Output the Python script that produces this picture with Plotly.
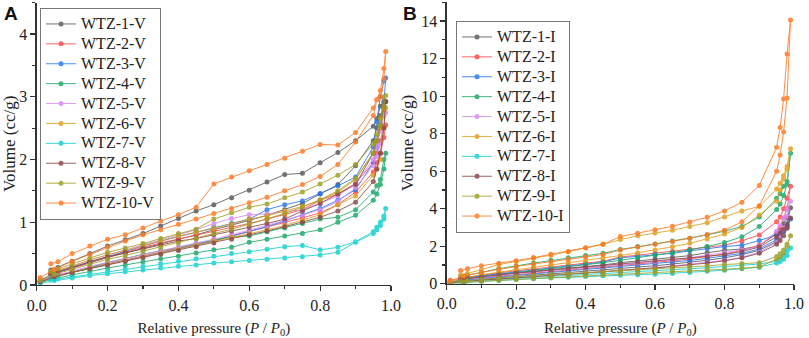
import plotly.graph_objects as go

# ---------------- data ----------------
NAMES_A = ["WTZ-1-V", "WTZ-2-V", "WTZ-3-V", "WTZ-4-V", "WTZ-5-V",
           "WTZ-6-V", "WTZ-7-V", "WTZ-8-V", "WTZ-9-V", "WTZ-10-V"]
NAMES_B = ["WTZ-1-I", "WTZ-2-I", "WTZ-3-I", "WTZ-4-I", "WTZ-5-I",
           "WTZ-6-I", "WTZ-7-I", "WTZ-8-I", "WTZ-9-I", "WTZ-10-I"]
COLORS = ["#5c5c5c", "#ff4a4a", "#2a78f0", "#1faa6a", "#d98cf2",
          "#e0a020", "#18d0d0", "#8c4a4a", "#a0a028", "#ff7a24"]

# relative pressure of adsorption / desorption points
P_ADS_A = [0.01, 0.05, 0.1, 0.15, 0.2, 0.25, 0.3, 0.35, 0.4, 0.45, 0.5, 0.55,
           0.6, 0.65, 0.7, 0.75, 0.8, 0.85, 0.9, 0.95, 0.96, 0.97, 0.98, 0.985]
P_ADS_B = [0.01, 0.05, 0.1, 0.15, 0.2, 0.25, 0.3, 0.35, 0.4, 0.45, 0.5, 0.55,
           0.6, 0.65, 0.7, 0.75, 0.8, 0.85, 0.9, 0.95, 0.96, 0.97, 0.98, 0.99]
P_DES = [0.98, 0.97, 0.96, 0.95, 0.9, 0.85, 0.8, 0.75, 0.7, 0.65, 0.6, 0.55,
         0.5, 0.45, 0.4, 0.35, 0.3, 0.25, 0.2, 0.15, 0.1, 0.06, 0.04]

# ---- panel A (cc/g) ----
A1_ADS = [0.08, 0.18, 0.27, 0.36, 0.44, 0.51, 0.58, 0.65, 0.72, 0.80, 0.88, 0.95, 1.03, 1.11, 1.20, 1.30, 1.45, 1.60, 1.90, 2.30, 2.50, 2.70, 2.85, 2.93]
A1_DES = [2.93, 2.85, 2.65, 2.53, 2.30, 2.11, 1.95, 1.78, 1.76, 1.64, 1.51, 1.39, 1.28, 1.18, 1.06, 0.94, 0.82, 0.72, 0.62, 0.50, 0.38, 0.28, 0.24]
A2_ADS = [0.06, 0.14, 0.21, 0.28, 0.34, 0.40, 0.46, 0.52, 0.58, 0.64, 0.71, 0.78, 0.85, 0.92, 1.00, 1.07, 1.15, 1.28, 1.48, 1.80, 1.95, 2.10, 2.35, 2.55]
A2_DES = [2.52, 2.30, 2.10, 1.95, 1.62, 1.45, 1.35, 1.20, 1.12, 1.05, 0.98, 0.92, 0.86, 0.80, 0.74, 0.67, 0.60, 0.52, 0.45, 0.36, 0.27, 0.20, 0.17]
A3_ADS = [0.05, 0.13, 0.20, 0.27, 0.33, 0.39, 0.45, 0.51, 0.57, 0.63, 0.70, 0.78, 0.85, 0.93, 1.02, 1.12, 1.22, 1.35, 1.52, 1.95, 2.20, 2.50, 2.90, 3.30]
A3_DES = [3.25, 3.00, 2.60, 2.20, 1.72, 1.58, 1.46, 1.34, 1.28, 1.20, 1.05, 0.98, 0.92, 0.85, 0.78, 0.70, 0.62, 0.54, 0.46, 0.37, 0.28, 0.20, 0.17]
A4_ADS = [0.04, 0.10, 0.16, 0.22, 0.27, 0.32, 0.37, 0.42, 0.46, 0.51, 0.56, 0.60, 0.68, 0.73, 0.78, 0.82, 0.88, 1.00, 1.11, 1.35, 1.45, 1.60, 1.85, 2.10]
A4_DES = [2.00, 1.68, 1.58, 1.48, 1.20, 1.08, 1.05, 0.98, 0.91, 0.85, 0.78, 0.77, 0.72, 0.66, 0.60, 0.55, 0.49, 0.42, 0.36, 0.28, 0.20, 0.15, 0.12]
A5_ADS = [0.06, 0.15, 0.22, 0.30, 0.36, 0.42, 0.48, 0.54, 0.60, 0.66, 0.73, 0.80, 0.87, 0.95, 1.03, 1.11, 1.20, 1.33, 1.55, 1.90, 2.05, 2.25, 2.50, 2.75]
A5_DES = [2.70, 2.45, 2.20, 2.00, 1.62, 1.42, 1.30, 1.20, 1.17, 1.13, 1.12, 1.06, 0.98, 0.88, 0.80, 0.72, 0.64, 0.57, 0.49, 0.40, 0.30, 0.23, 0.20]
A6_ADS = [0.05, 0.13, 0.20, 0.27, 0.33, 0.39, 0.45, 0.51, 0.57, 0.63, 0.70, 0.76, 0.82, 0.88, 0.95, 1.03, 1.12, 1.28, 1.42, 1.75, 1.85, 2.00, 2.50, 2.82]
A6_DES = [2.78, 2.50, 2.30, 2.10, 1.68, 1.48, 1.35, 1.25, 1.18, 1.10, 1.05, 0.97, 0.90, 0.84, 0.78, 0.70, 0.62, 0.55, 0.48, 0.40, 0.30, 0.23, 0.20]
A7_ADS = [0.03, 0.07, 0.11, 0.15, 0.18, 0.21, 0.24, 0.27, 0.30, 0.32, 0.35, 0.37, 0.39, 0.41, 0.43, 0.45, 0.48, 0.52, 0.68, 0.82, 0.88, 0.95, 1.05, 1.22]
A7_DES = [1.10, 1.00, 0.92, 0.85, 0.69, 0.60, 0.56, 0.63, 0.61, 0.57, 0.53, 0.50, 0.46, 0.42, 0.38, 0.34, 0.30, 0.26, 0.22, 0.18, 0.14, 0.10, 0.08]
A8_ADS = [0.05, 0.13, 0.20, 0.26, 0.32, 0.38, 0.44, 0.49, 0.55, 0.61, 0.67, 0.73, 0.80, 0.86, 0.93, 1.00, 1.08, 1.18, 1.32, 1.65, 1.85, 2.10, 2.50, 2.92]
A8_DES = [2.85, 2.55, 2.30, 2.10, 1.60, 1.45, 1.30, 1.18, 1.05, 0.98, 0.92, 0.86, 0.80, 0.74, 0.70, 0.64, 0.58, 0.52, 0.45, 0.37, 0.28, 0.21, 0.18]
A9_ADS = [0.07, 0.17, 0.25, 0.33, 0.41, 0.47, 0.54, 0.60, 0.67, 0.74, 0.82, 0.89, 0.97, 1.05, 1.14, 1.24, 1.36, 1.50, 1.70, 2.10, 2.30, 2.55, 2.85, 3.02]
A9_DES = [3.00, 2.65, 2.40, 2.25, 1.92, 1.75, 1.61, 1.48, 1.39, 1.29, 1.24, 1.15, 1.05, 0.89, 0.82, 0.74, 0.66, 0.59, 0.52, 0.43, 0.33, 0.26, 0.22]
A10_ADS = [0.12, 0.25, 0.38, 0.49, 0.60, 0.70, 0.80, 0.88, 0.97, 1.05, 1.14, 1.22, 1.31, 1.40, 1.50, 1.60, 1.73, 1.92, 2.28, 2.70, 2.95, 3.10, 3.45, 3.72]
A10_DES = [3.28, 3.00, 2.95, 2.82, 2.43, 2.23, 2.24, 2.13, 2.02, 1.92, 1.82, 1.72, 1.61, 1.24, 1.12, 1.02, 0.91, 0.80, 0.73, 0.62, 0.50, 0.37, 0.34]

# ---- panel B (cc/g) ----
B1_ADS = [0.04, 0.15, 0.23, 0.30, 0.37, 0.44, 0.51, 0.58, 0.65, 0.72, 0.80, 0.88, 0.96, 1.05, 1.14, 1.25, 1.38, 1.55, 1.78, 2.25, 2.50, 2.80, 3.20, 4.05]
B1_DES = [3.50, 3.20, 2.95, 2.70, 2.00, 1.85, 1.78, 1.65, 1.50, 1.40, 1.32, 1.22, 1.12, 1.00, 0.92, 0.85, 0.78, 0.70, 0.60, 0.50, 0.38, 0.28, 0.24]
B2_ADS = [0.18, 0.25, 0.32, 0.40, 0.48, 0.56, 0.64, 0.72, 0.80, 0.88, 0.96, 1.04, 1.12, 1.22, 1.32, 1.44, 1.58, 1.78, 2.05, 2.65, 3.00, 3.50, 4.00, 5.20]
B2_DES = [4.55, 4.00, 3.55, 3.30, 2.60, 2.28, 2.05, 1.95, 1.85, 1.72, 1.62, 1.52, 1.42, 1.20, 1.10, 1.00, 0.90, 0.80, 0.70, 0.58, 0.45, 0.33, 0.28]
B3_ADS = [0.05, 0.18, 0.28, 0.36, 0.44, 0.52, 0.60, 0.67, 0.74, 0.82, 0.90, 0.98, 1.06, 1.14, 1.24, 1.35, 1.48, 1.62, 1.85, 2.35, 2.55, 2.80, 3.10, 3.45]
B3_DES = [3.00, 2.85, 2.70, 2.60, 2.30, 2.05, 1.98, 1.88, 1.75, 1.62, 1.55, 1.45, 1.38, 1.15, 1.05, 0.95, 0.85, 0.75, 0.65, 0.55, 0.42, 0.32, 0.28]
B4_ADS = [0.08, 0.25, 0.38, 0.50, 0.60, 0.70, 0.80, 0.90, 1.00, 1.12, 1.25, 1.38, 1.52, 1.65, 1.80, 1.98, 2.20, 2.50, 3.05, 3.95, 4.25, 4.70, 5.30, 6.95]
B4_DES = [5.45, 5.20, 4.80, 4.55, 3.55, 3.05, 2.80, 2.60, 2.42, 2.28, 2.12, 1.98, 1.82, 1.62, 1.50, 1.38, 1.25, 1.10, 0.95, 0.80, 0.60, 0.45, 0.38]
B5_ADS = [0.04, 0.14, 0.21, 0.28, 0.34, 0.40, 0.46, 0.52, 0.58, 0.64, 0.71, 0.78, 0.86, 0.94, 1.03, 1.13, 1.25, 1.40, 1.68, 2.20, 2.50, 2.90, 3.60, 4.40]
B5_DES = [3.95, 3.50, 3.10, 2.80, 2.00, 1.80, 1.65, 1.52, 1.38, 1.28, 1.18, 1.10, 1.02, 0.92, 0.85, 0.78, 0.70, 0.62, 0.54, 0.45, 0.35, 0.26, 0.22]
B6_ADS = [0.10, 0.30, 0.48, 0.62, 0.75, 0.88, 1.00, 1.12, 1.24, 1.36, 1.50, 1.65, 1.80, 1.97, 2.15, 2.38, 2.65, 3.00, 3.66, 4.40, 5.00, 5.60, 6.10, 7.20]
B6_DES = [6.25, 5.75, 5.35, 5.05, 4.12, 3.88, 3.55, 3.25, 3.05, 2.85, 2.70, 2.55, 2.35, 2.10, 1.90, 1.70, 1.52, 1.35, 1.18, 1.02, 0.75, 0.55, 0.45]
B7_ADS = [0.02, 0.07, 0.12, 0.17, 0.22, 0.27, 0.31, 0.35, 0.38, 0.42, 0.45, 0.48, 0.51, 0.55, 0.60, 0.66, 0.72, 0.80, 0.88, 1.10, 1.18, 1.30, 1.50, 1.90]
B7_DES = [1.75, 1.50, 1.30, 1.20, 1.05, 0.98, 0.90, 0.85, 0.80, 0.75, 0.70, 0.66, 0.62, 0.55, 0.50, 0.46, 0.42, 0.37, 0.32, 0.26, 0.19, 0.14, 0.11]
B8_ADS = [0.03, 0.12, 0.19, 0.26, 0.32, 0.38, 0.44, 0.50, 0.56, 0.62, 0.69, 0.76, 0.84, 0.92, 1.00, 1.10, 1.22, 1.38, 1.62, 2.10, 2.30, 2.55, 2.95, 3.50]
B8_DES = [3.10, 2.90, 2.70, 2.50, 1.95, 1.72, 1.55, 1.45, 1.38, 1.30, 1.22, 1.15, 1.05, 0.95, 0.88, 0.80, 0.72, 0.64, 0.56, 0.47, 0.36, 0.27, 0.23]
B9_ADS = [0.02, 0.08, 0.13, 0.18, 0.23, 0.28, 0.33, 0.38, 0.42, 0.47, 0.52, 0.56, 0.60, 0.64, 0.68, 0.72, 0.76, 0.82, 0.90, 1.30, 1.45, 1.65, 2.00, 2.55]
B9_DES = [2.10, 1.80, 1.60, 1.45, 1.12, 1.08, 1.02, 0.95, 0.90, 0.85, 0.80, 0.76, 0.72, 0.65, 0.60, 0.55, 0.50, 0.44, 0.38, 0.30, 0.22, 0.16, 0.13]
B10_ADS = [0.15, 0.42, 0.60, 0.78, 0.92, 1.05, 1.18, 1.30, 1.42, 1.55, 1.80, 1.95, 2.10, 2.25, 2.42, 2.62, 2.85, 3.30, 4.15, 6.00, 6.86, 8.09, 9.90, 14.05]
B10_DES = [12.24, 9.85, 8.32, 7.27, 5.24, 4.34, 3.88, 3.54, 3.29, 3.06, 2.88, 2.69, 2.51, 2.10, 1.92, 1.71, 1.57, 1.39, 1.23, 1.09, 0.96, 0.80, 0.70]

ADS_A = [A1_ADS, A2_ADS, A3_ADS, A4_ADS, A5_ADS, A6_ADS, A7_ADS, A8_ADS, A9_ADS, A10_ADS]
DES_A = [A1_DES, A2_DES, A3_DES, A4_DES, A5_DES, A6_DES, A7_DES, A8_DES, A9_DES, A10_DES]
ADS_B = [B1_ADS, B2_ADS, B3_ADS, B4_ADS, B5_ADS, B6_ADS, B7_ADS, B8_ADS, B9_ADS, B10_ADS]
DES_B = [B1_DES, B2_DES, B3_DES, B4_DES, B5_DES, B6_DES, B7_DES, B8_DES, B9_DES, B10_DES]

SERIF = "Liberation Serif, Times New Roman, serif"

fig = go.Figure()

def add_panel(names, ads, des, p_ads, xa, ya, legend):
    for name, a, d, c in zip(names, ads, des, COLORS):
        fig.add_trace(go.Scatter(
            x=p_ads + P_DES, y=a + d,
            name='<span style="font-size:16px">' + name + '</span>',
            mode="lines+markers",
            line=dict(color=c, width=1), opacity=0.85,
            marker=dict(color=c, size=5, symbol="circle"),
            xaxis=xa, yaxis=ya, legend=legend))

add_panel(NAMES_A, ADS_A, DES_A, P_ADS_A, "x", "y", "legend")
add_panel(NAMES_B, ADS_B, DES_B, P_ADS_B, "x2", "y2", "legend2")

W, H = 809, 338
axis_common = dict(showline=True, linecolor="#333333", linewidth=1.3,
                   ticks="outside", ticklen=5, tickwidth=1.2, tickcolor="#333333",
                   showgrid=False, zeroline=False, mirror=False, automargin=False,
                   tickfont=dict(family=SERIF, size=16, color="#222"))

def xax(domain, anchor):
    return dict(axis_common, domain=domain, anchor=anchor, range=[0, 1.0],
                dtick=0.2, tickformat=".1f",
                minor=dict(ticks="outside", ticklen=3, dtick=0.1, tickcolor="#333333"),
                title=dict(text="Relative pressure (<i>P</i> / <i>P</i><sub>0</sub>)",
                           font=dict(family=SERIF, size=15, color="#222"), standoff=14))

def yax(domain, anchor, rng, dt, mdt):
    return dict(axis_common, domain=domain, anchor=anchor, range=rng, dtick=dt,
                minor=dict(ticks="outside", ticklen=3, dtick=mdt, tickcolor="#333333"),
                title=dict(text="Volume (cc/g)", font=dict(family=SERIF, size=17, color="#222"),
                           standoff=3))

legend_common = dict(bgcolor="white", bordercolor="#777777", borderwidth=1,
                     font=dict(family=SERIF, size=13, color="#222"),
                     xanchor="left", yanchor="top", tracegroupgap=0, itemwidth=30)

fig.update_layout(
    width=W, height=H, margin=dict(l=0, r=0, t=0, b=0),
    paper_bgcolor="white", plot_bgcolor="white", hovermode=False,
    xaxis=xax([36.7 / W, 391 / W], "y"),
    yaxis=yax([(H - 285) / H, (H - 2.6) / H], "x", [0, 4.5], 1, 0.5),
    xaxis2=xax([446.7 / W, 794 / W], "y2"),
    yaxis2=yax([(H - 283.7) / H, (H - 2.3) / H], "x2", [0, 15], 2, 1),
    legend=dict(legend_common, x=40 / W, y=(H - 8) / H),
    legend2=dict(legend_common, x=456 / W, y=(H - 21) / H),
    annotations=[
        dict(text="<b>A</b>", x=2 / W, y=(H - 1) / H, xref="paper", yref="paper",
             xanchor="left", yanchor="top", showarrow=False,
             font=dict(family="Liberation Sans, Arial, sans-serif", size=19, color="#111")),
        dict(text="<b>B</b>", x=401 / W, y=(H - 1) / H, xref="paper", yref="paper",
             xanchor="left", yanchor="top", showarrow=False,
             font=dict(family="Liberation Sans, Arial, sans-serif", size=19, color="#111")),
    ],
)

fig.write_html("out.html", config={"displayModeBar": False, "staticPlot": True},
               post_script="document.body.style.margin='0';document.body.style.overflow='hidden';")
